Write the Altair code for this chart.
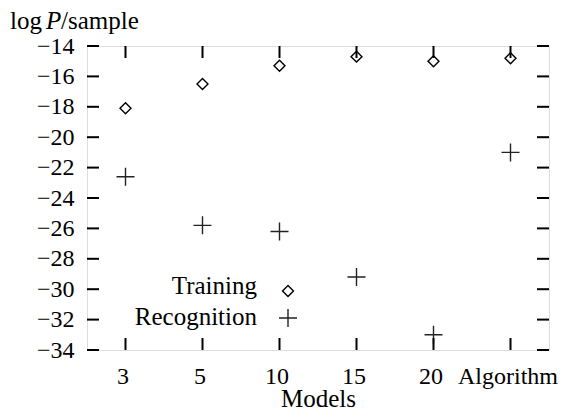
import altair as alt
import pandas as pd

models = ["3", "5", "10", "15", "20", "Algorithm"]
training = [-18.1, -16.5, -15.3, -14.7, -15.0, -14.8]
recognition = [-22.6, -25.8, -26.2, -29.2, -33.0, -21.0]
y_ticks = [-34, -32, -30, -28, -26, -24, -22, -20, -18, -16, -14]

FONT = "Liberation Serif"
FS = 24
FT = 25
W, H = 462, 304

df_train = pd.DataFrame({"model": models, "value": training})
df_rec = pd.DataFrame({"model": models, "value": recognition})
df_yt = pd.DataFrame({"value": y_ticks})
df_xt = pd.DataFrame({"model": models})

X = alt.X(
    "model:N",
    sort=models,
    scale=alt.Scale(type="point", domain=models, padding=0.5),
    axis=alt.Axis(
        domain=False, ticks=False, grid=False, labelAngle=0, labelPadding=14,
        labelFont=FONT, labelFontSize=FS, labelColor="black", labelOffset=-3,
        title="Models", titleFont=FONT, titleFontSize=FT, titleFontWeight="normal",
        titleColor="black", titleBaseline="alphabetic", titleY=56,
    ),
)
Y = alt.Y(
    "value:Q",
    scale=alt.Scale(domain=[-34, -14], nice=False, zero=False),
    axis=alt.Axis(
        values=y_ticks, domain=False, ticks=False, grid=False, labelPadding=13,
        labelFont=FONT, labelFontSize=FS, labelColor="black", title=None,
    ),
)

train_pts = alt.Chart(df_train).mark_point(
    shape="diamond", filled=False, size=120, color="black", strokeWidth=1.4, opacity=1
).encode(x=X, y=Y)

plus_path = "M-1,0L1,0M0,-1L0,1"
rec_pts = alt.Chart(df_rec).mark_point(
    shape=plus_path, filled=False, size=324, color="#222222", strokeWidth=1.4, opacity=1
).encode(x=X, y=Y)

tick_left = alt.Chart(df_yt).mark_rule(color="black", strokeWidth=2).encode(
    y=Y, x=alt.value(0), x2=alt.value(12))
tick_right = alt.Chart(df_yt).mark_rule(color="black", strokeWidth=2).encode(
    y=Y, x=alt.value(W - 12), x2=alt.value(W))
tick_top = alt.Chart(df_xt).mark_rule(color="black", strokeWidth=2).encode(
    x=X, y=alt.value(0), y2=alt.value(12))
tick_bot = alt.Chart(df_xt).mark_rule(color="black", strokeWidth=2).encode(
    x=X, y=alt.value(H - 12), y2=alt.value(H))

one = pd.DataFrame({"a": [0]})

def txt(s, x, y, align="left", italic=False):
    return alt.Chart(one).mark_text(
        text=s, font=FONT, fontSize=FT, align=align, baseline="alphabetic",
        color="black", fontStyle="italic" if italic else "normal",
    ).encode(x=alt.value(x), y=alt.value(y))

ylab = txt("log", -77, -17) + txt("P", -41, -17, italic=True) + txt("/sample", -26, -17)

leg_train_txt = txt("Training", 170, 248, align="right")
leg_rec_txt = txt("Recognition", 170, 279, align="right")
leg_train_sym = alt.Chart(one).mark_point(
    shape="diamond", filled=False, size=120, color="black", strokeWidth=1.4, opacity=1
).encode(x=alt.value(201), y=alt.value(245))
leg_rec_sym = alt.Chart(one).mark_point(
    shape=plus_path, filled=False, size=324, color="#222222", strokeWidth=1.4, opacity=1
).encode(x=alt.value(201), y=alt.value(272))

chart = alt.layer(
    train_pts, rec_pts, tick_left, tick_right, tick_top, tick_bot,
    ylab, leg_train_txt, leg_rec_txt, leg_train_sym, leg_rec_sym,
).properties(
    width=W, height=H,
    padding={"left": 79, "top": 38, "right": 10, "bottom": 61},
    autosize=alt.AutoSizeParams(type="none"),
).configure_view(
    stroke="black", strokeWidth=2
).configure(background="white")

chart.save("out.html", embed_options={"renderer": "svg", "actions": False})
